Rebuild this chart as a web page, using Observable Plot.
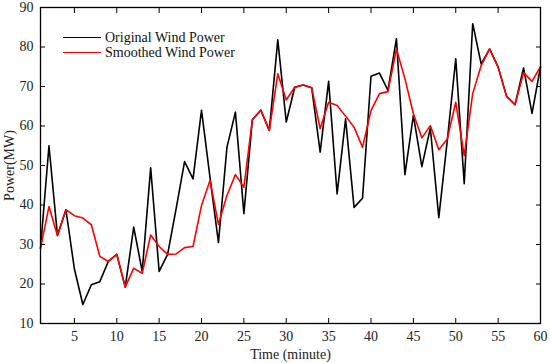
<!DOCTYPE html>
<html>
<head>
<meta charset="utf-8">
<script src="https://cdn.jsdelivr.net/npm/d3@7"></script>
<script src="https://cdn.jsdelivr.net/npm/@observablehq/plot@0.6"></script>
<style>
  html, body { margin: 0; padding: 0; background: #fff; }
  #wrap { position: relative; width: 550px; height: 363px; font-family: "Liberation Serif", "Times New Roman", serif; }
  .legend { position: absolute; left: 63px; top: 30px; font-size: 14px; line-height: 15px; color: #111; }
  .legend .row { display: flex; align-items: center; height: 15px; }
  .legend .sw { width: 38px; height: 0; border-top: 1.8px solid; margin-right: 4px; }
</style>
</head>
<body>
<div id="wrap"></div>
<script>
const minutes = [1,2,3,4,5,6,7,8,9,10,11,12,13,14,15,16,17,18,19,20,21,22,23,24,25,26,27,28,29,30,
  31,32,33,34,35,36,37,38,39,40,41,42,43,44,45,46,47,48,49,50,51,52,53,54,55,56,57,58,59,60];
const original = [29, 55, 32.3, 38.8, 23.8, 14.8, 19.8, 20.6, 25.7, 27.5,
  19.2, 34.4, 23.2, 49.4, 23.2, 27.5, 39, 51, 46.6, 64,
  47, 30.5, 54.6, 63.5, 37.8, 61.6, 64, 58.9, 81.8, 61,
  69.8, 70.4, 69.7, 53.4, 71.3, 42.8, 61.8, 39.4, 41.7, 72.6,
  73.4, 69, 82.1, 47.7, 62.7, 49.7, 59.5, 36.8, 56.3, 77,
  45.4, 85.9, 75.7, 79.5, 74.9, 67.5, 65.4, 74.7, 63.2, 75];
const smoothed = [29, 39.6, 32.3, 38.8, 37.3, 36.7, 35, 27, 25.7, 27.5,
  19.2, 24, 22.7, 32.4, 29.5, 27.5, 27.6, 29.2, 29.5, 39.9,
  46.2, 35.1, 42.4, 47.7, 44.5, 61.6, 64, 58.9, 73.2, 66.6,
  69.8, 70.4, 69.7, 59.3, 66, 65.2, 62.5, 59.7, 54.6, 63.9,
  68.2, 68.7, 79.5, 72, 63.1, 57, 60.1, 54, 56.7, 66,
  52.5, 68.2, 75.3, 79.5, 74.9, 67.5, 65.4, 73.5, 71.3, 75];
const seriesNames = ["Original Wind Power", "Smoothed Wind Power"];
const seriesColors = ["#000000", "#ff0000"];
const xTicks = [5,10,15,20,25,30,35,40,45,50,55,60];
const yTicks = [10,20,30,40,50,60,70,80,90];

const origData = minutes.map((m, i) => ({m, v: original[i]}));
const smoothData = minutes.map((m, i) => ({m, v: smoothed[i]}));

const fontSize = 14;
const chart = Plot.plot({
  width: 550,
  height: 363,
  marginLeft: 40,
  marginRight: 10,
  marginTop: 7,
  marginBottom: 40,
  style: {fontFamily: '"Liberation Serif", "Times New Roman", serif', fontSize: fontSize + "px", color: "#222", background: "#fff"},
  x: {domain: [1, 60]},
  y: {domain: [10, 90]},
  marks: [
    Plot.line(origData, {x: "m", y: "v", stroke: seriesColors[0], strokeWidth: 1.6}),
    Plot.line(smoothData, {x: "m", y: "v", stroke: seriesColors[1], strokeWidth: 1.6}),
    Plot.frame({stroke: "#000", strokeWidth: 1.3}),
    // inward ticks
    Plot.axisX(xTicks, {anchor: "bottom", tickSize: -5, text: null, label: null, stroke: "#000"}),
    Plot.axisX(xTicks, {anchor: "top", tickSize: -5, text: null, label: null, stroke: "#000"}),
    Plot.axisY(yTicks, {anchor: "left", tickSize: -5, text: null, label: null, stroke: "#000"}),
    Plot.axisY(yTicks, {anchor: "right", tickSize: -5, text: null, label: null, stroke: "#000"}),
    // labels
    Plot.axisX(xTicks, {anchor: "bottom", tickSize: 0, tickPadding: 8, label: "Time (minute)", labelAnchor: "center", labelArrow: "none", labelOffset: 35, fill: "#222", fontSize: fontSize}),
    Plot.axisY(yTicks, {anchor: "left", tickSize: 0, tickPadding: 7, label: "Power(MW)", labelAnchor: "center", labelOffset: 36, labelArrow: "none", fill: "#222", fontSize: fontSize})
  ]
});

const wrap = document.getElementById("wrap");
wrap.appendChild(chart);
const legend = document.createElement("div");
legend.className = "legend";
seriesNames.forEach((name, i) => {
  const row = document.createElement("div");
  row.className = "row";
  const sw = document.createElement("span");
  sw.className = "sw";
  sw.style.borderTopColor = seriesColors[i];
  const t = document.createElement("span");
  t.textContent = name;
  row.appendChild(sw);
  row.appendChild(t);
  legend.appendChild(row);
});
wrap.appendChild(legend);
</script>
</body>
</html>
